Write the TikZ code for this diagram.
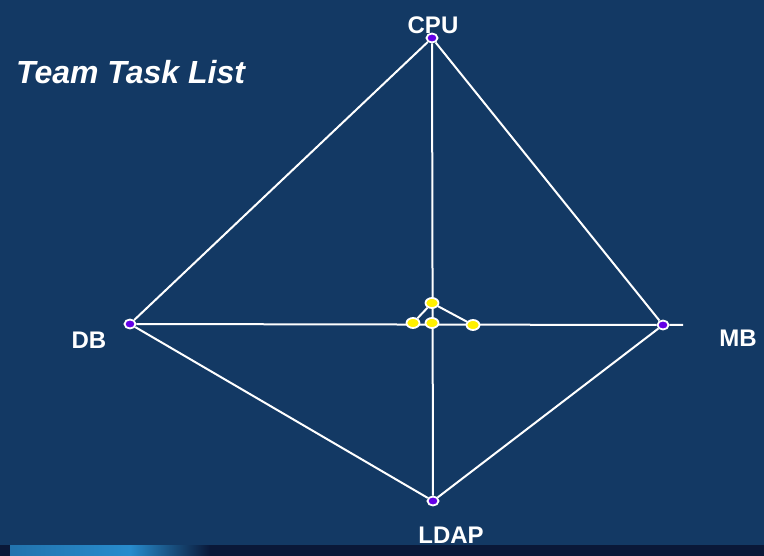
\documentclass[tikz,border=0pt]{standalone}
\usepackage{fontspec}
\setmainfont{Liberation Sans}
\usetikzlibrary{shapes.geometric,backgrounds}
\definecolor{slideblue}{RGB}{19,57,100}
\definecolor{bandnavy}{RGB}{10,24,56}
\definecolor{bandlight}{RGB}{40,140,205}
\definecolor{dotpurple}{RGB}{100,0,230}
\definecolor{dotyellow}{RGB}{255,240,0}
\begin{document}
\begin{tikzpicture}[x=1pt, y=-1pt,
    vertex/.style={ellipse, draw=white, line width=1.8pt, fill=dotpurple, minimum width=11pt, minimum height=9pt, inner sep=0pt},
    hub/.style={ellipse, draw=white, line width=1.8pt, fill=dotyellow, minimum width=13pt, minimum height=10pt, inner sep=0pt},
    tag/.style={text=white, font=\bfseries\fontsize{24}{24}\selectfont, inner sep=0pt},
    wire/.style={draw=white, line width=2pt}]
    \useasboundingbox (0,0) rectangle (764,556);
    % vertices
    \node[vertex] (cpu) at (432,38) {};
    \node[vertex] (db) at (130,324) {};
    \node[vertex] (mb) at (663,325) {};
    \node[vertex] (ldap) at (433,501) {};
    \coordinate (mbend) at (683,325);
    % center dots
    \node[hub] (ytop) at (432,303) {};
    \node[hub] (yleft) at (413,323) {};
    \node[hub] (ymid) at (432,323) {};
    \node[hub] (yright) at (473,325) {};
    % labels
    \node[tag] (cpulabel) at (433,25) {CPU};
    \node[tag] (dblabel) at (89,340) {DB};
    \node[tag] (mblabel) at (738,338) {MB};
    \node[tag] (ldaplabel) at (451,535) {LDAP};
    \node[text=white, font=\bfseries\itshape\fontsize{32}{32}\selectfont, inner sep=0pt, anchor=west] (title) at (16,72) {Team Task List};
    \begin{pgfonlayer}{background}
        \fill[slideblue] (0,0) rectangle (764,556);
        \fill[bandnavy] (0,545) rectangle (764,556);
        \shade[left color=bandlight!70!slideblue, right color=bandlight] (10,545) rectangle (130,556);
        \shade[left color=bandlight, right color=bandnavy] (130,545) rectangle (210,556);
        \draw[wire] (cpu) -- (db) -- (ldap) -- (mb) -- (cpu);
        \draw[wire] (cpu) -- (ldap);
        \draw[wire] (db) -- (mb) -- (mbend);
        \draw[wire] (ytop) -- (yleft);
        \draw[wire] (ytop) -- (yright);
    \end{pgfonlayer}
\end{tikzpicture}
\end{document}
